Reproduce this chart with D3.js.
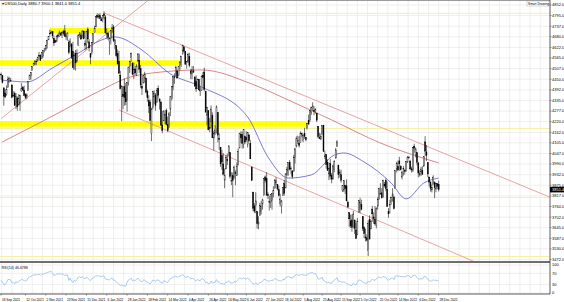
<!DOCTYPE html>
<html><head><meta charset="utf-8">
<script src="https://cdn.jsdelivr.net/npm/d3@7"></script>
<style>
html,body{margin:0;padding:0;background:#fff;}
svg{display:block;font-family:"Liberation Sans",Arial,sans-serif;}
</style></head><body>
<svg id="chart" width="564" height="302"></svg>
<script>
// daily bars: [day, open, high, low, close]
const sep21 = [[16,4477,4486,4447,4473],[17,4470,4471,4427,4432],[20,4403,4403,4306,4358],[21,4375,4394,4347,4354],[22,4367,4416,4360,4395],[23,4406,4465,4406,4449],[24,4438,4463,4430,4455],[27,4443,4457,4437,4443],[28,4419,4419,4346,4352],[29,4362,4385,4353,4359],[30,4371,4383,4307,4307]];
const oct21 = [[1,4317,4375,4288,4357],[4,4348,4356,4279,4300],[5,4310,4369,4309,4345],[6,4320,4365,4278,4363],[7,4383,4429,4383,4399],[8,4406,4413,4386,4391],[11,4391,4415,4360,4361],[12,4368,4374,4342,4350],[13,4358,4373,4341,4364],[14,4387,4439,4387,4438],[15,4448,4475,4448,4471],[18,4463,4487,4447,4486],[19,4497,4520,4496,4519],[20,4524,4540,4524,4536],[21,4532,4550,4526,4549],[22,4547,4559,4526,4545],[25,4553,4572,4545,4567],[26,4579,4598,4569,4575],[27,4580,4585,4551,4551],[28,4563,4597,4562,4596],[29,4572,4608,4567,4605]];
const nov21 = [[1,4610,4620,4595,4613],[2,4613,4636,4604,4631],[3,4631,4664,4616,4660],[4,4663,4683,4662,4680],[5,4699,4718,4681,4697],[8,4701,4714,4694,4702],[9,4707,4708,4670,4685],[10,4670,4685,4630,4646],[11,4659,4664,4648,4649],[12,4656,4688,4650,4683],[15,4689,4697,4672,4682],[16,4680,4714,4679,4701],[17,4701,4701,4684,4689],[18,4700,4708,4673,4705],[19,4708,4718,4686,4698],[22,4712,4744,4682,4682],[23,4679,4699,4661,4690],[24,4675,4702,4659,4701],[26,4650,4663,4585,4595],[29,4628,4672,4626,4655],[30,4640,4646,4560,4567]];
const dec21 = [[1,4602,4652,4510,4513],[2,4504,4595,4504,4577],[3,4590,4608,4496,4538],[6,4548,4612,4541,4591],[7,4632,4694,4632,4686],[8,4690,4705,4675,4701],[9,4688,4698,4666,4667],[10,4687,4713,4671,4712],[13,4711,4711,4666,4669],[14,4643,4660,4606,4634],[15,4637,4712,4612,4709],[16,4719,4731,4647,4668],[17,4652,4667,4600,4620],[20,4588,4588,4531,4568],[21,4594,4651,4583,4649],[22,4650,4698,4645,4697],[23,4703,4740,4703,4725],[27,4733,4791,4733,4791],[28,4795,4807,4780,4786],[29,4788,4804,4778,4793],[30,4794,4808,4775,4778],[31,4776,4787,4765,4766]];
const jan22 = [[3,4778,4797,4758,4797],[4,4804,4818,4774,4794],[5,4787,4797,4699,4700],[6,4693,4726,4671,4696],[7,4697,4707,4663,4677],[10,4655,4673,4582,4670],[11,4670,4714,4638,4713],[12,4728,4749,4702,4726],[13,4733,4744,4651,4659],[14,4637,4666,4614,4663],[18,4632,4632,4568,4577],[19,4588,4611,4530,4533],[20,4547,4603,4477,4483],[21,4472,4495,4395,4398],[24,4357,4418,4222,4410],[25,4367,4411,4287,4357],[26,4409,4454,4306,4350],[27,4380,4429,4309,4327],[28,4337,4433,4274,4432],[31,4431,4516,4415,4516]];
const feb22 = [[1,4519,4550,4484,4546],[2,4568,4595,4545,4589],[3,4535,4542,4471,4477],[4,4482,4540,4451,4501],[7,4505,4521,4471,4484],[8,4480,4531,4466,4522],[9,4548,4591,4547,4587],[10,4553,4588,4484,4504],[11,4507,4527,4401,4419],[14,4412,4427,4364,4401],[15,4429,4472,4429,4471],[16,4456,4490,4430,4475],[17,4456,4456,4373,4380],[18,4384,4394,4328,4349],[22,4333,4363,4267,4305],[23,4325,4340,4222,4226],[24,4156,4295,4114,4288],[25,4298,4385,4286,4385],[28,4354,4389,4315,4374]];
const mar22 = [[1,4364,4375,4279,4306],[2,4323,4401,4323,4387],[3,4401,4416,4345,4363],[4,4343,4343,4285,4329],[7,4327,4328,4199,4201],[8,4202,4277,4157,4171],[9,4224,4279,4224,4278],[10,4252,4258,4206,4260],[11,4280,4291,4200,4204],[14,4203,4247,4162,4173],[15,4188,4272,4187,4262],[16,4288,4358,4250,4358],[17,4345,4412,4335,4412],[18,4407,4465,4390,4463],[21,4462,4481,4425,4461],[22,4470,4522,4469,4512],[23,4494,4501,4455,4456],[24,4469,4520,4465,4520],[25,4523,4546,4501,4543],[28,4541,4575,4517,4575],[29,4603,4637,4582,4632],[30,4625,4627,4588,4602],[31,4600,4603,4530,4530]];
const apr22 = [[1,4540,4547,4507,4545],[4,4548,4593,4539,4583],[5,4573,4593,4514,4525],[6,4494,4504,4450,4481],[7,4474,4521,4450,4500],[8,4495,4521,4484,4488],[11,4462,4464,4408,4413],[12,4437,4471,4381,4397],[13,4398,4453,4398,4447],[14,4449,4452,4390,4392],[18,4386,4410,4359,4391],[19,4390,4471,4388,4463],[20,4472,4489,4455,4459],[21,4489,4512,4385,4394],[22,4385,4386,4268,4272],[25,4255,4300,4200,4296],[26,4279,4279,4175,4175],[27,4187,4240,4162,4183],[28,4222,4308,4188,4288],[29,4253,4270,4131,4132]];
const may22 = [[2,4131,4169,4062,4155],[3,4159,4200,4147,4175],[4,4181,4308,4155,4300],[5,4270,4270,4107,4147],[6,4129,4157,4067,4123],[9,4081,4082,3975,3991],[10,4035,4068,3959,4001],[11,3991,4049,3928,3935],[12,3903,3965,3859,3930],[13,3963,4039,3963,4024],[16,4013,4047,3984,4008],[17,4052,4091,4034,4088],[18,4052,4052,3911,3923],[19,3900,3946,3876,3901],[20,3927,3944,3810,3901],[23,3920,3981,3909,3974],[24,3943,3956,3875,3941],[25,3929,3999,3925,3979],[26,3984,4076,3984,4058],[27,4077,4158,4077,4158],[31,4151,4168,4105,4132]];
const jun22 = [[1,4149,4166,4074,4101],[2,4096,4178,4075,4176],[3,4138,4143,4099,4109],[6,4135,4168,4110,4121],[7,4097,4164,4080,4161],[8,4148,4150,4110,4116],[9,4102,4120,4017,4018],[10,3974,3975,3900,3901],[13,3838,3839,3734,3750],[14,3763,3778,3724,3735],[15,3765,3837,3723,3790],[16,3733,3733,3640,3667],[17,3665,3707,3636,3675],[21,3710,3780,3710,3765],[22,3733,3790,3717,3760],[23,3774,3802,3743,3796],[24,3821,3914,3821,3912],[27,3920,3928,3889,3900],[28,3913,3946,3820,3821],[29,3825,3837,3800,3819],[30,3786,3819,3738,3785]];
const jul22 = [[1,3782,3826,3752,3825],[5,3793,3832,3742,3831],[6,3831,3870,3809,3845],[7,3859,3908,3859,3903],[8,3888,3919,3876,3899],[11,3880,3880,3847,3855],[12,3851,3874,3814,3819],[13,3775,3829,3759,3801],[14,3764,3796,3722,3790],[15,3818,3863,3818,3863],[18,3884,3903,3818,3831],[19,3860,3938,3860,3937],[20,3935,3974,3924,3959],[21,3955,3999,3927,3999],[22,3999,4012,3955,3961],[25,3965,3976,3937,3967],[26,3953,3954,3911,3921],[27,3951,4040,3951,4024],[28,4027,4078,3993,4072],[29,4087,4140,4080,4130]];
const aug22 = [[1,4112,4144,4097,4119],[2,4104,4141,4079,4091],[3,4107,4167,4107,4155],[4,4154,4161,4135,4152],[5,4116,4152,4108,4145],[8,4156,4187,4127,4140],[9,4134,4137,4113,4122],[10,4181,4211,4177,4210],[11,4227,4258,4201,4207],[12,4225,4280,4219,4280],[15,4269,4301,4256,4297],[16,4290,4325,4278,4305],[17,4281,4303,4255,4274],[18,4274,4292,4263,4284],[19,4266,4267,4218,4228],[22,4195,4196,4130,4138],[23,4133,4159,4125,4128],[24,4126,4156,4119,4141],[25,4154,4200,4147,4199],[26,4199,4203,4058,4058],[29,4034,4063,4017,4031],[30,4041,4044,3965,3986],[31,4000,4015,3954,3955]];
const sep22 = [[1,3937,3970,3903,3967],[2,3994,4018,3907,3924],[6,3930,3942,3886,3908],[7,3909,3987,3906,3980],[8,3959,4010,3945,4006],[9,4022,4077,4022,4067],[12,4084,4119,4083,4110],[13,3983,3987,3912,3932],[14,3941,3961,3916,3946],[15,3932,3959,3889,3901],[16,3847,3874,3838,3873],[19,3849,3901,3838,3900],[20,3875,3877,3827,3856],[21,3872,3907,3789,3790],[22,3782,3791,3750,3758],[23,3727,3727,3648,3693],[26,3682,3716,3644,3655],[27,3687,3717,3623,3647],[28,3651,3736,3641,3719],[29,3687,3687,3610,3640],[30,3633,3672,3584,3586]];
const oct22 = [[3,3609,3698,3604,3678],[4,3726,3791,3726,3791],[5,3753,3807,3723,3783],[6,3771,3797,3739,3744],[7,3706,3707,3627,3640],[10,3645,3652,3588,3612],[11,3595,3640,3570,3589],[12,3590,3609,3571,3577],[13,3520,3685,3491,3669],[14,3690,3712,3584,3583],[17,3638,3688,3638,3678],[18,3746,3763,3677,3720],[19,3703,3728,3666,3695],[20,3689,3762,3656,3666],[21,3657,3753,3641,3752],[24,3762,3810,3742,3797],[25,3799,3862,3799,3859],[26,3825,3886,3824,3830],[27,3834,3859,3803,3807],[28,3808,3905,3808,3901],[31,3881,3893,3863,3872]];
const nov22 = [[1,3901,3912,3843,3856],[2,3853,3895,3759,3759],[3,3733,3751,3699,3720],[4,3767,3796,3722,3771],[7,3780,3814,3770,3807],[8,3817,3859,3786,3828],[9,3811,3818,3744,3749],[10,3859,3958,3859,3956],[11,3963,4002,3944,3993],[14,3977,4009,3956,3957],[15,4007,4029,3954,3991],[16,3976,3984,3955,3959],[17,3920,3954,3906,3946],[18,3966,3980,3927,3965],[21,3956,3962,3933,3950],[22,3956,4004,3947,4004],[23,4000,4033,3998,4027],[25,4024,4034,4020,4026],[28,4006,4013,3956,3964],[29,3964,3976,3944,3958],[30,3957,4080,3946,4080]];
const dec22 = [[1,4087,4100,4051,4076],[2,4041,4080,4026,4072],[5,4052,4052,3984,3999],[6,3996,4001,3918,3941],[7,3937,3957,3922,3934],[8,3947,3975,3925,3963],[9,3954,3978,3933,3934],[12,3979,4030,3975,4031],[13,4110,4141,4033,4060],[14,4056,4093,4006,4036],[15,3998,3999,3919,3936],[16,3920,3920,3867,3892],[19,3893,3895,3840,3858],[20,3850,3879,3836,3862],[21,3880,3929,3880,3919],[22,3893,3893,3805,3862],[23,3855,3886,3837,3885],[27,3883,3886,3853,3869],[28,3880.7,3900.1,3841.0,3851.4]];

const monthData = [[2021,8,sep21],[2021,9,oct21],[2021,10,nov21],[2021,11,dec21],[2022,0,jan22],[2022,1,feb22],[2022,2,mar22],[2022,3,apr22],[2022,4,may22],[2022,5,jun22],[2022,6,jul22],[2022,7,aug22],[2022,8,sep22],[2022,9,oct22],[2022,10,nov22],[2022,11,dec22]];

// closes before the first visible bar (for RSI warm-up)
const preCloses = [4496,4470,4509,4529,4523,4524,4537,4535,4520,4514,4493,4458,4469,4443,4481];

// moving averages: [bar index, value]
const ma50 = [[0.8,4445],[19,4435],[38,4511],[56,4586],[74,4662],[84,4679],[104,4608],[124,4483],[148,4408],[182,4245],[197,4028],[212,3914],[229,3931],[246,4039],[253,4050],[268,4001],[288,3887],[299,3801],[312,3887],[323,3914]];
const ma200 = [[0.8,4109],[38,4250],[74,4391],[93,4456],[111,4483],[148,4500],[185,4424],[212,4337],[244,4229],[280,4104],[323,3996]];

// trend lines: [bar index, price] pairs
const risingLine = [[0,4236],[108.9,4879]];
const channelTop = [[76,4809],[405,3811]];
const channelBottom = [[87,4283],[350,3459]];

// yellow zones [price, from bar, to bar] and thin levels
const zones = [[4714,36,83],[4538,-1,133],[4207,-1,226.5]];
const levels = [4807,4183,3809,3489];

const yTicks = [4852,4795,4737,4680,4622,4565,4507,4450,4392,4335,4277,4220,4162,4105,4047,3990,3932,3875,3817,3760,3702,3645,3587,3530,3472];
const rsiTicks = [100,70,30,0];
const xTickLabels = ["16 Sep 2021","12 Oct 2021","2 Nov 2021","23 Nov 2021","15 Dec 2021","6 Jan 2022","28 Jan 2022","18 Feb 2022","14 Mar 2022","4 Apr 2022","26 Apr 2022","16 May 2022","6 Jun 2022","27 Jun 2022","18 Jul 2022","5 Aug 2022","25 Aug 2022","15 Sep 2022","5 Oct 2022","25 Oct 2022","14 Nov 2022","6 Dec 2022","28 Dec 2022"];

const headerText = "US500,Daily  3880.7 3900.1 3841.0 3851.4";
const rsiText = "RSI(14) 46.6788";

// ---- build bars ----
const monthNames = ["Jan","Feb","Mar","Apr","May","Jun","Jul","Aug","Sep","Oct","Nov","Dec"];
const bars = [];
monthData.forEach(([yr, mo, rows]) => {
  rows.forEach(r => {
    bars.push({ label: `${r[0]} ${monthNames[mo]} ${yr}`, o: r[1], h: r[2], l: r[3], c: r[4] });
  });
});
bars.forEach((b, i) => { b.i = i; });

// RSI(14), Wilder smoothing
const closes = preCloses.concat(bars.map(b => b.c));
let gain = 0, loss = 0;
for (let k = 1; k <= 14; k++) {
  const d = closes[k] - closes[k - 1];
  if (d > 0) gain += d; else loss -= d;
}
gain /= 14; loss /= 14;
const rsi = [];
for (let k = 15; k < closes.length; k++) {
  const d = closes[k] - closes[k - 1];
  gain = (gain * 13 + Math.max(d, 0)) / 14;
  loss = (loss * 13 + Math.max(-d, 0)) / 14;
  rsi.push({ i: k - 15, v: 100 - 100 / (1 + gain / loss) });
}

// ---- layout ----
const W = 564, plotR = 550;
const mainTop = 0, mainBot = 261, rsiTop = 263, rsiBot = 294;

const x = d3.scaleLinear().domain([-0.8, 405.2]).range([0, plotR]);
const y = d3.scaleLinear().domain([3472, 4852]).range([259.6, 5]);
const ry = d3.scaleLinear().domain([0, 100]).range([293, 265]);

const svg = d3.select('#chart');
const defs = svg.append('defs');
defs.append('clipPath').attr('id', 'clipMain')
  .append('rect').attr('x', 0).attr('y', mainTop).attr('width', plotR).attr('height', mainBot - mainTop);
defs.append('clipPath').attr('id', 'clipRsi')
  .append('rect').attr('x', 0).attr('y', rsiTop).attr('width', plotR).attr('height', rsiBot - rsiTop);

svg.append('rect').attr('width', W).attr('height', 302).attr('fill', '#fff');

// grid
const grid = svg.append('g').attr('stroke', '#e4e4e4').attr('stroke-width', 0.6);
const lastIdx = bars.length - 1;
const gridBars = d3.range(-60, 40).map(k => lastIdx + k * 7.5).filter(v => x(v) > 0 && x(v) < plotR);
gridBars.forEach(v => {
  grid.append('line').attr('x1', x(v)).attr('x2', x(v)).attr('y1', mainTop).attr('y2', mainBot);
  grid.append('line').attr('x1', x(v)).attr('x2', x(v)).attr('y1', rsiTop).attr('y2', rsiBot);
});
yTicks.forEach(t => {
  grid.append('line').attr('x1', 0).attr('x2', plotR).attr('y1', y(t)).attr('y2', y(t));
});
rsiTicks.forEach(t => {
  grid.append('line').attr('x1', 0).attr('x2', plotR).attr('y1', ry(t)).attr('y2', ry(t));
});

const main = svg.append('g').attr('clip-path', 'url(#clipMain)');

// thin yellow levels
main.selectAll('.lvl').data(levels).join('line')
  .attr('x1', 0).attr('x2', plotR)
  .attr('y1', d => y(d)).attr('y2', d => y(d))
  .attr('stroke', '#f6f0a0').attr('stroke-width', 1);

// thick yellow zones
main.selectAll('.zone').data(zones).join('line')
  .attr('x1', d => x(d[1])).attr('x2', d => x(d[2]))
  .attr('y1', d => y(d[0])).attr('y2', d => y(d[0]))
  .attr('stroke', '#ffff00').attr('stroke-width', 5.5);

// trend lines
const line = d3.line().x(d => x(d[0])).y(d => y(d[1]));
[risingLine, channelTop, channelBottom].forEach(pts => {
  main.append('path').datum(pts).attr('d', line)
    .attr('fill', 'none').attr('stroke', '#e49a9a').attr('stroke-width', 0.9);
});

// moving averages
const curve = d3.line().x(d => x(d[0])).y(d => y(d[1])).curve(d3.curveMonotoneX);
main.append('path').datum(ma200).attr('d', curve)
  .attr('fill', 'none').attr('stroke', '#cc6a6a').attr('stroke-width', 0.8);
main.append('path').datum(ma50).attr('d', curve)
  .attr('fill', 'none').attr('stroke', '#5a5ac8').attr('stroke-width', 0.8);

// candles
const candles = main.append('g');
candles.selectAll('.wick').data(bars).join('line')
  .attr('x1', d => x(d.i)).attr('x2', d => x(d.i))
  .attr('y1', d => y(d.h)).attr('y2', d => y(d.l))
  .attr('stroke', '#111').attr('stroke-width', 0.6);
candles.selectAll('.body').data(bars).join('rect')
  .attr('x', d => x(d.i) - 0.5)
  .attr('width', 1)
  .attr('y', d => y(Math.max(d.o, d.c)))
  .attr('height', d => Math.max(0.6, Math.abs(y(d.o) - y(d.c))))
  .attr('fill', d => d.c >= d.o ? '#fff' : '#000')
  .attr('stroke', '#000').attr('stroke-width', 0.4);

// RSI
svg.append('g').attr('clip-path', 'url(#clipRsi)')
  .append('path').datum(rsi)
  .attr('d', d3.line().x(d => x(d.i)).y(d => ry(d.v)))
  .attr('fill', 'none').attr('stroke', '#94bee8').attr('stroke-width', 0.8);

// frame
svg.append('line').attr('x1', 0).attr('x2', plotR).attr('y1', 0.5).attr('y2', 0.5).attr('stroke', '#9a9a9a').attr('stroke-width', 1);
svg.append('rect').attr('x', 0).attr('y', mainBot).attr('width', plotR).attr('height', rsiTop - mainBot).attr('fill', '#6e6e6e');
svg.append('line').attr('x1', 0).attr('x2', plotR).attr('y1', rsiBot).attr('y2', rsiBot).attr('stroke', '#333').attr('stroke-width', 0.8);
svg.append('line').attr('x1', plotR).attr('x2', plotR).attr('y1', 0).attr('y2', rsiBot).attr('stroke', '#333').attr('stroke-width', 0.8);

// y axis labels
const yAx = svg.append('g').attr('font-size', 4).attr('fill', '#000');
yTicks.forEach(t => {
  yAx.append('line').attr('x1', plotR).attr('x2', plotR + 1.5).attr('y1', y(t)).attr('y2', y(t)).attr('stroke', '#333').attr('stroke-width', 0.5);
  yAx.append('text').attr('x', plotR + 2).attr('y', y(t)).attr('dy', '0.35em').text(d3.format('.1f')(t));
});
rsiTicks.forEach(t => {
  yAx.append('text').attr('x', plotR + 2).attr('y', ry(t)).attr('dy', '0.35em').text(t);
});

// last price box
const last = bars[lastIdx];
svg.append('rect').attr('x', plotR).attr('y', y(last.c) - 2.8).attr('width', W - plotR).attr('height', 5.6).attr('fill', '#000');
svg.append('text').attr('x', plotR + 2).attr('y', y(last.c)).attr('dy', '0.35em')
  .attr('font-size', 4).attr('fill', '#fff').text(d3.format('.1f')(last.c));

// x axis labels
const xAx = svg.append('g').attr('font-size', 3.3).attr('letter-spacing', -0.05).attr('fill', '#000');
xTickLabels.forEach(lbl => {
  const b = bars.find(d => d.label === lbl);
  if (!b) return;
  xAx.append('line').attr('x1', x(b.i)).attr('x2', x(b.i)).attr('y1', rsiBot).attr('y2', rsiBot + 1.5).attr('stroke', '#333').attr('stroke-width', 0.5);
  xAx.append('text').attr('x', Math.max(1, x(b.i) + 0.8)).attr('y', 300.5).text(lbl);
});

// header texts
svg.append('text').attr('x', 1.5).attr('y', 5).attr('font-size', 4).attr('fill', '#000').text('\u25BE ' + headerText);
svg.append('text').attr('x', 1.5).attr('y', 268.5).attr('font-size', 3.6).attr('fill', '#000').text(rsiText);
svg.append('rect').attr('x', 527).attr('y', 1).attr('width', 22).attr('height', 5).attr('fill', '#fff').attr('stroke', '#999').attr('stroke-width', 0.4);
svg.append('text').attr('x', 528).attr('y', 4.6).attr('font-size', 3.2).attr('fill', '#000').text('Smart Drawing');
</script>
</body></html>
